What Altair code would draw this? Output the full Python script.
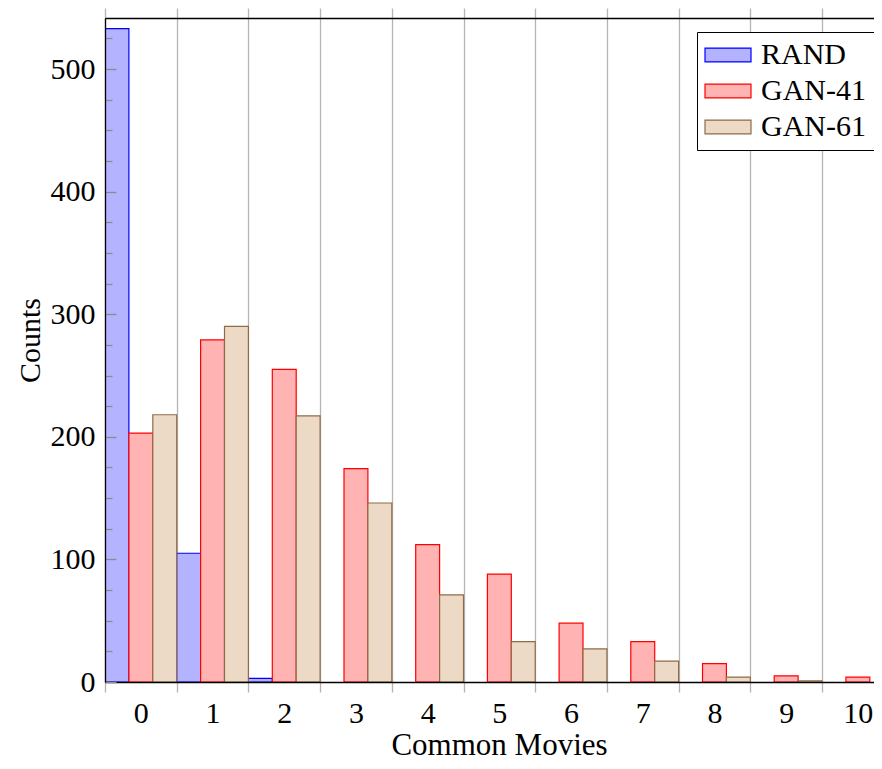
import altair as alt
import pandas as pd

categories = list(range(11))
series_names = ["RAND", "GAN-41", "GAN-61"]
rand = [533, 105, 3, 0, 0, 0, 0, 0, 0, 0, 0]
gan41 = [203, 279, 255, 174, 112, 88, 48, 33, 15, 5, 4]
gan61 = [218, 290, 217, 146, 71, 33, 27, 17, 4, 1, 0]
y_major = [0, 100, 200, 300, 400, 500]
y_minor_step = 25
fill_colors = ["#b3b3ff", "#ffb3b3", "#ecd9c6"]
stroke_colors = ["#0000ff", "#ff0000", "#8f6b48"]

boundaries = [c - 0.5 for c in categories]
y_all_ticks = list(range(0, 541, y_minor_step))

rows = []
for si, (name, vals) in enumerate(zip(series_names, [rand, gan41, gan61])):
    for c, v in zip(categories, vals):
        rows.append({"cat": c, "series": name, "idx": si, "count": v})
df = pd.DataFrame(rows)

W, H = 769, 664
FONT = "Liberation Serif"
GREY = "#b4b4b4"

xscale = alt.Scale(domain=[-0.5, 10.225], nice=False, zero=False)
yscale = alt.Scale(domain=[0, 541.6], nice=False, zero=False)

legend = alt.Legend(
    title=None, orient="none", legendX=592, legendY=14,
    strokeColor="black", fillColor="white", padding=8,
    labelFont=FONT, labelFontSize=30, labelColor="black",
    symbolType="M-2,-0.6H2V0.6H-2Z", symbolSize=529, symbolOffset=8,
    symbolStrokeWidth=1.2, labelOffset=18, rowPadding=6,
)

base = alt.Chart(df).transform_filter("datum.count > 0").transform_calculate(
    x0="datum.cat - 0.5 + datum.idx / 3",
    x1="datum.cat - 0.5 + (datum.idx + 1) / 3",
)

bars = base.mark_bar(clip=True, strokeWidth=1.2, opacity=1).encode(
    x=alt.X("x0:Q", scale=xscale, axis=alt.Axis(
        orient="bottom", values=sorted(boundaries + categories),
        tickSize=10, tickWidth=1.3,
        tickColor={"condition": {"test": "datum.value % 1 !== 0", "value": GREY}, "value": "transparent"},
        labelExpr="datum.value % 1 === 0 ? format(datum.value, 'd') : ''",
        labelOverlap=False, labelBound=False, labelFlush=False,
        labelFont=FONT, labelFontSize=30, labelColor="black", labelPadding=6,
        grid=False, domainColor="black", domainWidth=1.3, zindex=1,
        title="Common Movies", titleFont=FONT, titleFontSize=31, titleFontWeight="normal",
        titleColor="black", titleX=394, titleY=72, titleBaseline="alphabetic", titleAlign="center",
    )),
    x2="x1:Q",
    y=alt.Y("count:Q", scale=yscale, axis=alt.Axis(
        orient="left", values=y_major, ticks=False, labelPadding=10,
        labelFont=FONT, labelFontSize=30, labelColor="black",
        grid=False, domainColor="black", domainWidth=1.3, zindex=1,
        title="Counts", titleFont=FONT, titleFontSize=30, titleFontWeight="normal",
        titleColor="black", titleX=-66, titleY=322, titleAngle=270,
        titleBaseline="alphabetic", titleAlign="center",
    )),
    y2=alt.datum(0),
    fill=alt.Fill("series:N", scale=alt.Scale(domain=series_names, range=fill_colors), legend=legend),
    stroke=alt.Stroke("series:N", scale=alt.Scale(domain=series_names, range=stroke_colors), legend=legend),
)

frame = base.mark_point(opacity=0).encode(
    x=alt.X("x0:Q", scale=xscale, axis=alt.Axis(
        orient="top", values=boundaries, tickSize=10, tickWidth=1.3, tickColor=GREY,
        labels=False, grid=True, gridColor=GREY, gridWidth=1.3,
        domainColor="black", domainWidth=1.3, title=None, zindex=0,
    )),
    y=alt.Y("count:Q", scale=yscale, axis=alt.Axis(
        orient="right", offset=-W, values=y_all_ticks,
        tickSize={"condition": {"test": "datum.value % 100 === 0", "value": 11}, "value": 7},
        tickColor="#8c8c8c", tickWidth=1.3,
        labels=False, grid=False, domain=False, title=None, zindex=1,
    )),
)

chart = alt.layer(frame, bars).resolve_axis(x="independent", y="independent").properties(
    width=W, height=H,
    autosize=alt.AutoSizeParams(type="none"),
    padding={"left": 97, "top": 10, "right": 0, "bottom": 79},
).configure_view(stroke=None)

chart.save("out.html", embed_options={"renderer": "svg", "actions": False})
